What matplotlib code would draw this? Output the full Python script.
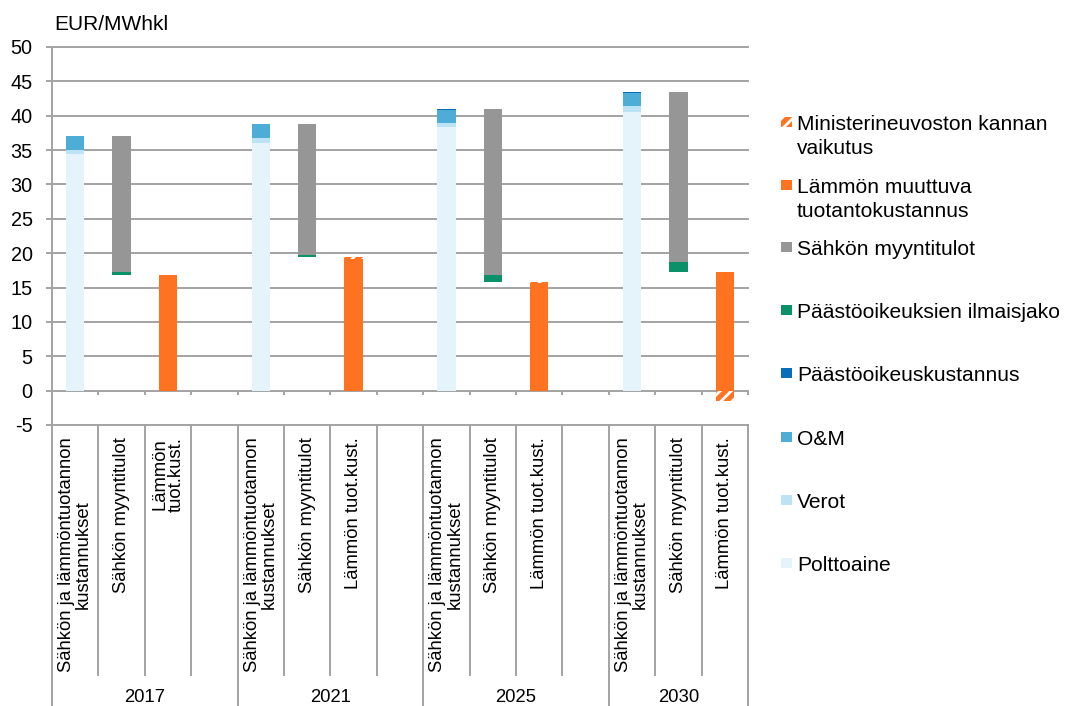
import matplotlib
matplotlib.use('Agg')
import matplotlib.pyplot as plt
from matplotlib import transforms
from matplotlib.patches import Rectangle

plt.rcParams['font.family'] = ['Liberation Sans', 'DejaVu Sans']
plt.rcParams['hatch.linewidth'] = 2.0

# ---------------- data ----------------
years = ['2017', '2021', '2025', '2030']
cat_labels = [
    ['Sähkön ja lämmöntuotannon\nkustannukset', 'Sähkön myyntitulot', 'Lämmön\ntuot.kust.'],
    ['Sähkön ja lämmöntuotannon\nkustannukset', 'Sähkön myyntitulot', 'Lämmön tuot.kust.'],
    ['Sähkön ja lämmöntuotannon\nkustannukset', 'Sähkön myyntitulot', 'Lämmön tuot.kust.'],
    ['Sähkön ja lämmöntuotannon\nkustannukset', 'Sähkön myyntitulot', 'Lämmön tuot.kust.'],
]
polttoaine = [34.5, 36.1, 38.3, 40.6]
verot = [0.5, 0.6, 0.6, 0.75]
om = [2.1, 2.1, 1.95, 1.9]
paasto_kust = [0.0, 0.0, 0.15, 0.2]
myyntitulot = [19.8, 19.1, 24.15, 24.8]
ilmaisjako = [0.5, 0.3, 1.0, 1.45]
lammon_kust = [16.8, 19.2, 15.7, 17.2]
mn_vaikutus = [0.0, 0.2, 0.15, -1.5]

legend_labels = ['Ministerineuvoston kannan\nvaikutus', 'Lämmön muuttuva\ntuotantokustannus',
                 'Sähkön myyntitulot', 'Päästöoikeuksien ilmaisjako', 'Päästöoikeuskustannus',
                 'O&M', 'Verot', 'Polttoaine']
yticks = list(range(-5, 51, 5))

# ---------------- style ----------------
c_polt = '#E5F3FB'
c_verot = '#BBE2F5'
c_om = '#4DADD6'
c_pkust = '#0A6DB7'
c_ilm = '#0B9169'
c_myyn = '#969696'
c_orange = '#FF7320'
grid_c = '#A3A3A3'
legend_colors = [c_orange, c_orange, c_myyn, c_ilm, c_pkust, c_om, c_verot, c_polt]

W, H = 1065, 706
fig = plt.figure(figsize=(W / 100, H / 100), dpi=100)
ax_l, ax_r, ax_t, ax_b = 52, 748, 47, 425
ax = fig.add_axes([ax_l / W, 1 - ax_b / H, (ax_r - ax_l) / W, (ax_b - ax_t) / H])

n_slots = 15
group_start = [0, 4, 8, 12]
bw = 0.4

cost_x = [g for g in group_start]
sales_x = [g + 1 for g in group_start]
heat_x = [g + 2 for g in group_start]

# cost stack
b1 = polttoaine
b2 = [a + b for a, b in zip(b1, verot)]
b3 = [a + b for a, b in zip(b2, om)]
ax.bar(cost_x, polttoaine, bw, color=c_polt, zorder=2)
ax.bar(cost_x, verot, bw, bottom=b1, color=c_verot, zorder=2)
ax.bar(cost_x, om, bw, bottom=b2, color=c_om, zorder=2)
ax.bar(cost_x, paasto_kust, bw, bottom=b3, color=c_pkust, zorder=2)
cost_total = [a + b for a, b in zip(b3, paasto_kust)]

# sales (waterfall)
sales_base = [t - m - i for t, m, i in zip(cost_total, myyntitulot, ilmaisjako)]
ax.bar(sales_x, ilmaisjako, bw, bottom=sales_base, color=c_ilm, zorder=2)
ax.bar(sales_x, myyntitulot, bw, bottom=[b + i for b, i in zip(sales_base, ilmaisjako)],
       color=c_myyn, zorder=2)

# heat cost
ax.bar(heat_x, lammon_kust, bw, color=c_orange, zorder=2)
mn_bottom = [l if v >= 0 else 0 for l, v in zip(lammon_kust, mn_vaikutus)]
ax.bar(heat_x, mn_vaikutus, bw, bottom=mn_bottom, color=c_orange, edgecolor='white',
       hatch='///', linewidth=0, zorder=2)

ax.set_xlim(-0.5, n_slots - 0.5)
ax.set_ylim(-5, 50)
for s in ax.spines.values():
    s.set_visible(False)

# gridlines
for y in yticks:
    ax.axhline(y, color=grid_c, lw=1.4, zorder=0.5, clip_on=False)
ax.set_yticks(yticks)
ax.set_yticklabels([str(v) for v in yticks], fontsize=14.3)
ax.tick_params(axis='y', length=4, width=1.4, color=grid_c, pad=10)
ax.set_xticks([])

# zero-line ticks
bounds = [i + 0.5 for i in range(n_slots)]
ax.vlines(bounds, 0, -0.6, color=grid_c, lw=1.4, zorder=0.5, clip_on=False)

# category table
trans = transforms.blended_transform_factory(ax.transData, ax.transAxes)
bot_all = -(H - ax_b) / (ax_b - ax_t)
bot_cat = -(675 - ax_b) / (ax_b - ax_t)
ax.plot([-0.5, -0.5], [1, bot_all], transform=trans, color=grid_c, lw=1.4, clip_on=False)
group_bounds = [3.5, 7.5, 11.5, 14.5]
for xb in bounds:
    yb = bot_all if xb in group_bounds else bot_cat
    ax.plot([xb, xb], [0, yb], transform=trans, color=grid_c, lw=1.4, clip_on=False)

lab_top = -(437 - ax_b) / (ax_b - ax_t)
for gi, g in enumerate(group_start):
    for si, lab in enumerate(cat_labels[gi]):
        ax.text(g + si, lab_top, lab, transform=trans, rotation=90, ha='center', va='top',
                multialignment='center', fontsize=13.3, linespacing=1.0)
    ngs = 4 if gi < 3 else 3
    ax.text(g + (ngs - 1) / 2, -(698 - ax_b) / (ax_b - ax_t), years[gi], transform=trans,
            ha='center', va='center', fontsize=13.3)

# unit label
fig.text(54 / W, 1 - 25 / H, 'EUR/MWhkl', ha='left', va='center', fontsize=15)

# legend (manual)
leg_y = [122, 185, 247, 310, 373, 437, 500, 563]
fs_leg = 15.1
em = fs_leg * 100 / 72
for k, (lab, col, yc) in enumerate(zip(legend_labels, legend_colors, leg_y)):
    sq = 10.5
    rect = Rectangle(((781) / W, 1 - (yc + sq / 2) / H), sq / W, sq / H,
                     transform=fig.transFigure, facecolor=col,
                     edgecolor='white' if k == 0 else 'none',
                     hatch='///' if k == 0 else None, linewidth=0)
    fig.patches.append(rect)
    for li, line in enumerate(lab.split('\n')):
        yl = yc + li * 24.5
        fig.text(797 / W, 1 - (yl + 0.36 * em) / H, line, ha='left', va='baseline',
                 fontsize=fs_leg)

fig.savefig('out.png', dpi=100)
